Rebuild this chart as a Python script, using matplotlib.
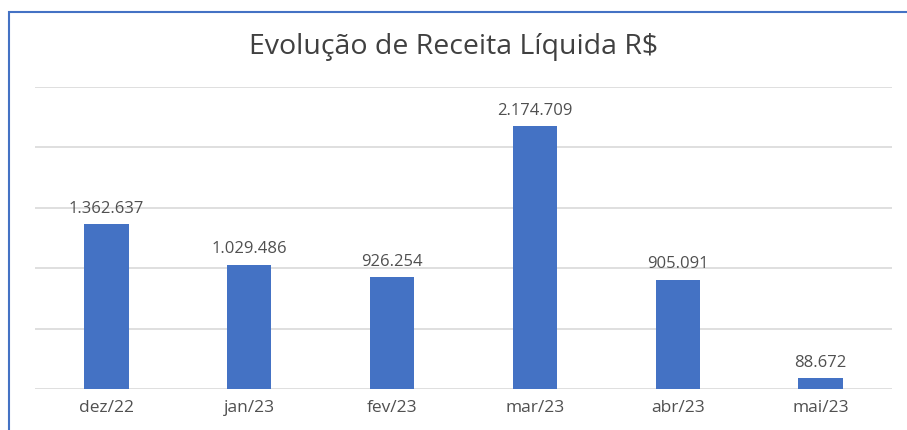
import matplotlib
matplotlib.use("Agg")
import matplotlib.pyplot as plt
from matplotlib.patches import Rectangle

meses = ['dez/22', 'jan/23', 'fev/23', 'mar/23', 'abr/23', 'mai/23']
receita = [1362637, 1029486, 926254, 2174709, 905091, 88672]
grade = [0, 500000, 1000000, 1500000, 2000000, 2500000]

def fmt_br(v):
    return '{:,}'.format(v).replace(',', '.')

plt.rcParams['font.family'] = ['Open Sans', 'DejaVu Sans']

W, H = 907, 431
fig = plt.figure(figsize=(W / 100, H / 100), dpi=100)
ax = fig.add_axes([35 / W, 41 / H, (892 - 35) / W, (390 - 88) / H])

x = range(len(meses))
ax.bar(x, receita, width=0.31, color='#4472C4', zorder=3)
for i, v in zip(x, receita):
    ax.annotate(fmt_br(v), (i, v), xytext=(0, 6), textcoords='offset points',
                ha='center', va='bottom', fontsize=12, color='#505050')

ax.set_xlim(-0.5, len(meses) - 0.5)
ax.set_ylim(0, grade[-1])
ax.set_yticks(grade)
ax.set_yticklabels([])
ax.tick_params(axis='y', length=0)
ax.tick_params(axis='x', length=0, pad=7, labelsize=12.5, labelcolor='#505050')
ax.set_xticks(list(x))
ax.set_xticklabels(meses)
ax.grid(axis='y', color='#d9d9d9', linewidth=1.2, zorder=0)
for s in ax.spines.values():
    s.set_visible(False)

fig.text(0.5, 1 - 47 / H, 'Evolução de Receita Líquida R$', ha='center', va='center',
         fontsize=20.5, color='#404040')

fig.patches.append(Rectangle((8.5 / W, -0.1), 1.2, 1 - 13 / H + 0.1, transform=fig.transFigure,
                             fill=False, edgecolor='#4472C4', linewidth=1.5))

fig.savefig('out.png', dpi=100)
